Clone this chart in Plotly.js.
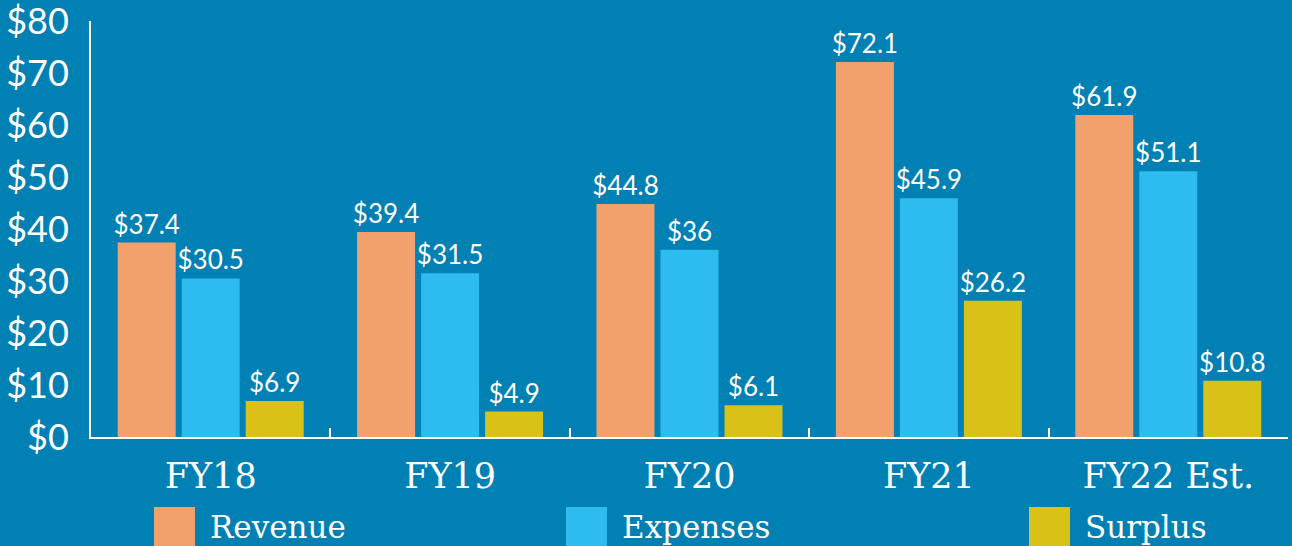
<!DOCTYPE html>
<html>
<head>
<meta charset="utf-8">
<script src="https://cdn.plot.ly/plotly-3.0.1.min.js"></script>
<style>
html,body{margin:0;padding:0;background:#0080B3;}
#chart{width:1292px;height:546px;}
</style>
</head>
<body>
<div id="chart"></div>
<script>
const categories = ['FY18', 'FY19', 'FY20', 'FY21', 'FY22 Est.'];
const seriesNames = ['Revenue', 'Expenses', 'Surplus'];
const revenue = [37.4, 39.4, 44.8, 72.1, 61.9];
const expenses = [30.5, 31.5, 36, 45.9, 51.1];
const surplus = [6.9, 4.9, 6.1, 26.2, 10.8];
const yTickVals = [0, 10, 20, 30, 40, 50, 60, 70, 80];
const yTickText = ['$0', '$10', '$20', '$30', '$40', '$50', '$60', '$70', '$80'];

const colors = ['#F2A06C', '#2EBBEF', '#D9C118'];
const seriesValues = [revenue, expenses, surplus];

const W = 1292, H = 546;
const M = {l: 91, r: 4, t: 21, b: 109};
const PW = W - M.l - M.r, PH = H - M.t - M.b;
const px = x => (x - M.l) / PW;
const py = y => (H - M.b - y) / PH;

const traces = seriesValues.map((vals, i) => ({
  type: 'bar',
  name: seriesNames[i],
  x: categories,
  y: vals,
  marker: {color: colors[i], line: {width: 0}},
  text: vals.map(v => '$' + v),
  textposition: 'outside',
  constraintext: 'none',
  textfont: {family: 'Lato, sans-serif', size: 26, color: '#ffffff'},
  cliponaxis: false,
  hoverinfo: 'skip',
  showlegend: false
}));

const legendLeft = [154, 566, 1029];
const sq = 41, sqTop = 507;
const shapes = [], annotations = [];
seriesNames.forEach((n, i) => {
  shapes.push({
    type: 'rect', xref: 'paper', yref: 'paper', layer: 'above',
    x0: px(legendLeft[i]), x1: px(legendLeft[i] + sq),
    y0: py(sqTop + sq), y1: py(sqTop),
    fillcolor: colors[i], line: {width: 0}
  });
  annotations.push({
    xref: 'paper', yref: 'paper',
    x: px(legendLeft[i] + sq + 13), y: py(527),
    xanchor: 'left', yanchor: 'middle',
    text: n, showarrow: false,
    font: {family: 'DejaVu Serif, serif', size: 31, color: '#ffffff'}
  });
});

const layout = {
  width: W, height: H,
  margin: M,
  paper_bgcolor: '#0080B3',
  plot_bgcolor: '#0080B3',
  barmode: 'group',
  bargap: 0.198,
  bargroupgap: 0.094,
  showlegend: false,
  xaxis: {
    type: 'category',
    range: [-0.5, 4.5],
    showline: true, linecolor: '#ffffff', linewidth: 2,
    ticks: 'inside', tickson: 'boundaries', ticklen: 9, tickwidth: 2, tickcolor: '#ffffff',
    showgrid: false, zeroline: false,
    tickfont: {family: 'DejaVu Serif, serif', size: 35, color: '#ffffff'},
    ticklabelstandoff: 7
  },
  yaxis: {
    range: [0, 80],
    tickvals: yTickVals, ticktext: yTickText,
    showline: true, linecolor: '#ffffff', linewidth: 2,
    ticks: '', showgrid: false, zeroline: false,
    ticklabeloverflow: 'allow',
    tickfont: {family: 'Lato, sans-serif', size: 36, color: '#ffffff'},
    ticklabelstandoff: 13
  },
  shapes: shapes,
  annotations: annotations
};

Plotly.newPlot('chart', traces, layout, {displayModeBar: false, staticPlot: true});
</script>
</body>
</html>
